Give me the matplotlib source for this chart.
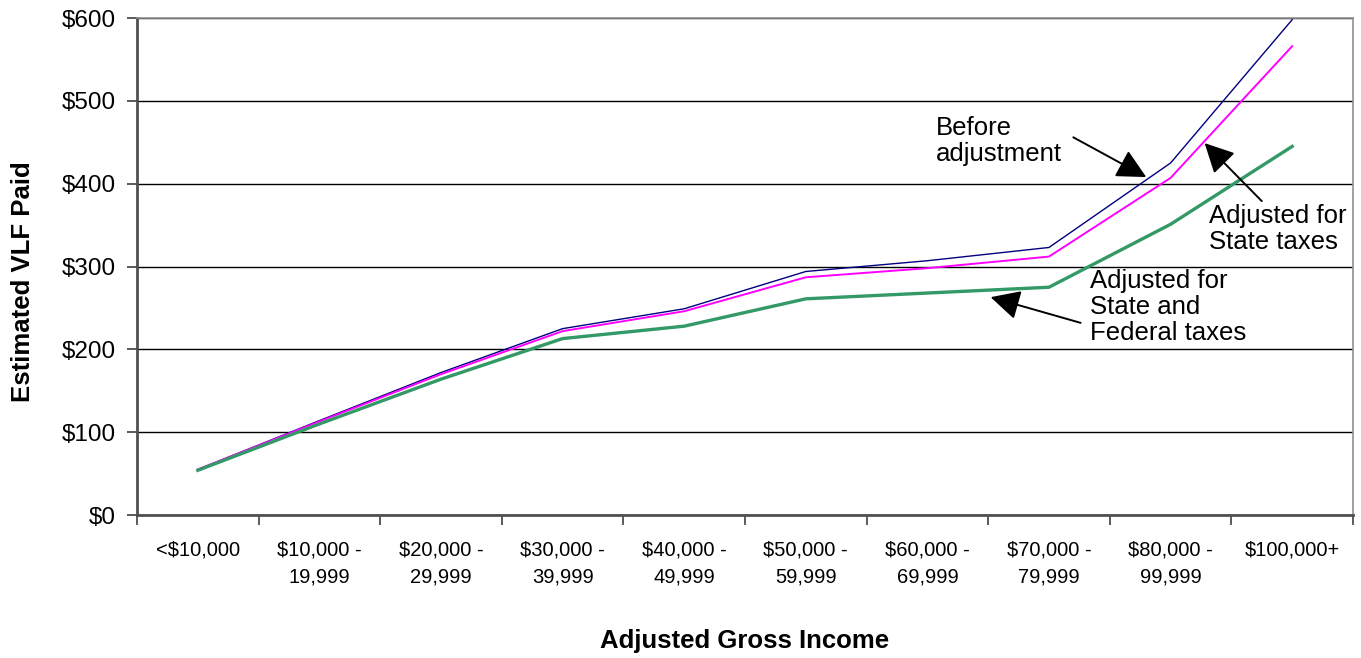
import matplotlib
matplotlib.use("Agg")
import matplotlib.pyplot as plt
import numpy as np

plt.rcParams['font.family'] = ['Liberation Sans', 'DejaVu Sans']

categories = ['<$10,000', '$10,000 -\n19,999', '$20,000 -\n29,999', '$30,000 -\n39,999',
              '$40,000 -\n49,999', '$50,000 -\n59,999', '$60,000 -\n69,999',
              '$70,000 -\n79,999', '$80,000 -\n99,999', '$100,000+']
before = [55, 114, 172, 225, 249, 294, 307, 323, 425, 598]
state_adj = [55, 113, 170, 222, 246, 287, 298, 312, 407, 566]
state_fed_adj = [54, 110, 164, 213, 228, 261, 268, 275, 351, 445]

x = np.arange(len(categories))

fig = plt.figure(figsize=(13.61, 6.58), dpi=100)
ax = fig.add_axes([0.1007, 0.2173, 0.8934, 0.7553])

ax.plot(x, before, color='#000080', lw=1.0, zorder=3)
ax.plot(x, state_adj, color='#FF00FF', lw=1.4, zorder=3)
ax.plot(x, state_fed_adj, color='#339966', lw=2.4, zorder=3)

ax.set_xlim(-0.5, len(categories) - 0.5)
ax.set_ylim(0, 600)
ax.set_yticks(np.arange(0, 601, 100))
ax.set_yticklabels([f'${v}' for v in range(0, 601, 100)])
ax.yaxis.grid(True, color='black', lw=1.0)
ax.set_axisbelow(True)

ax.set_xticks(x)
ax.set_xticklabels(categories, fontsize=14.5, linespacing=1.55, va='top')
ax.set_xticks(np.arange(-0.5, len(categories)), minor=True)
ax.tick_params(axis='x', which='major', length=0, pad=18)
ax.tick_params(axis='x', which='minor', length=7, width=1.2, color='#404040', direction='out')
ax.tick_params(axis='y', length=7, width=1.2, color='#404040', labelsize=17.5, pad=8)

for side in ['left', 'bottom']:
    ax.spines[side].set_color('#505050')
    ax.spines[side].set_linewidth(2)
for side in ['top', 'right']:
    ax.spines[side].set_color('#909090')
    ax.spines[side].set_linewidth(1.2)

ax.set_ylabel('Estimated VLF Paid', fontsize=18.5, fontweight='bold')
ax.yaxis.set_label_coords(-0.084, 0.47)
ax.set_xlabel('Adjusted Gross Income', fontsize=18.5, fontweight='bold', labelpad=31)

# filled triangular arrow heads
arrow = dict(arrowstyle='-|>,head_length=0.75,head_width=0.38', mutation_scale=24,
             color='black', lw=1.4, shrinkA=0, shrinkB=0)

ax.text(6.07, 482, 'Before\nadjustment', fontsize=18.5, va='top', ha='left', linespacing=1.1)
ax.annotate('', xy=(7.80, 408), xytext=(7.20, 456), arrowprops=arrow)

ax.text(8.32, 375, 'Adjusted for\nState taxes', fontsize=18.5, va='top', ha='left', linespacing=1.1)
ax.annotate('', xy=(8.28, 449), xytext=(8.75, 379), arrowprops=arrow)

ax.text(7.34, 297, 'Adjusted for\nState and\nFederal taxes', fontsize=18.5, va='top', ha='left', linespacing=1.1)
ax.annotate('', xy=(6.52, 263), xytext=(7.26, 232), arrowprops=arrow)

fig.savefig('out.png', dpi=100)
